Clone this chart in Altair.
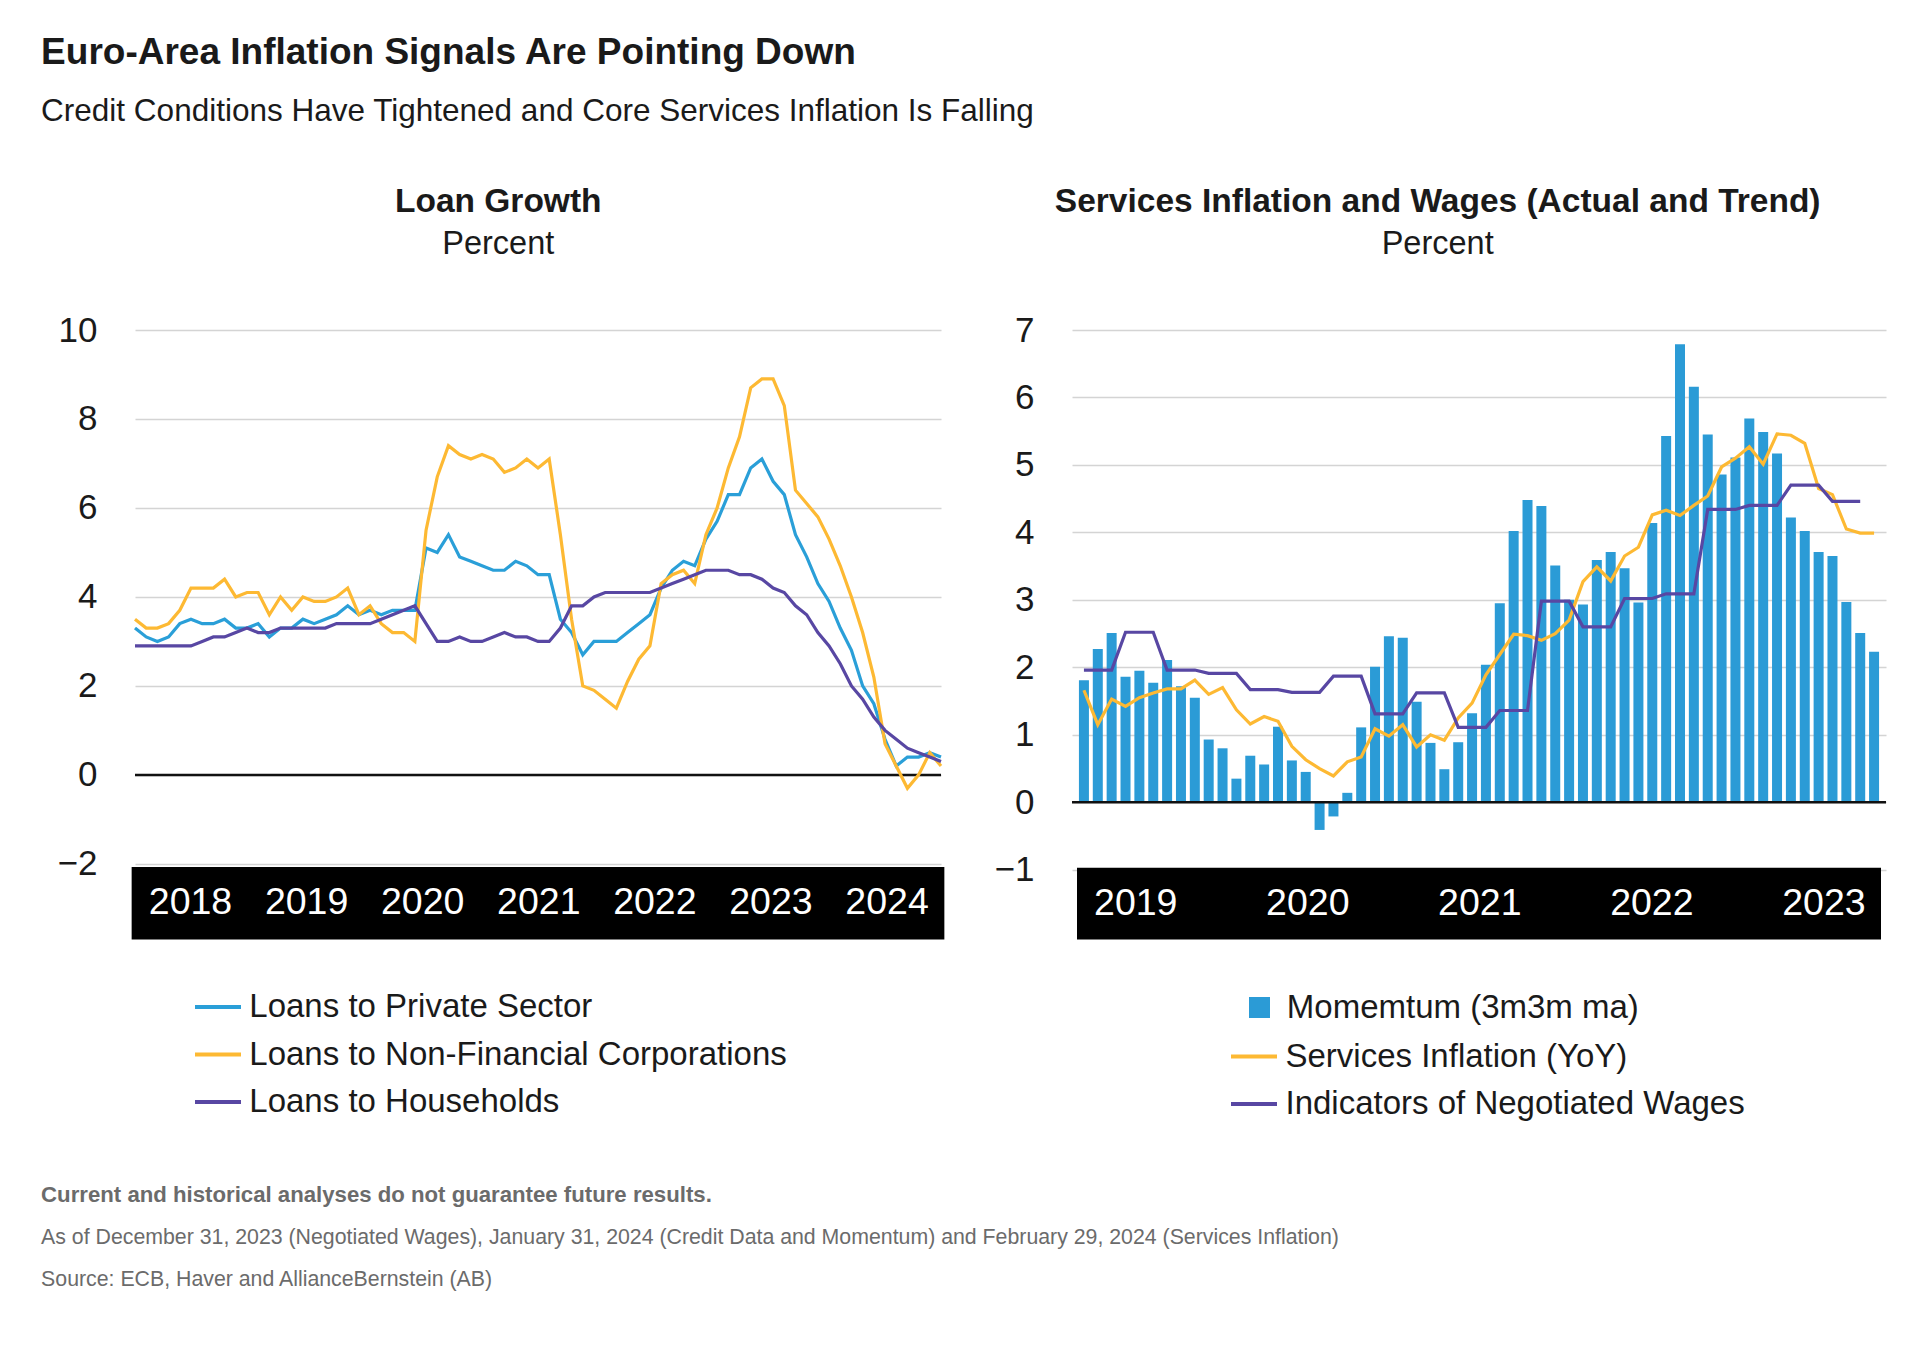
import altair as alt
import pandas as pd

FONT = "Liberation Sans, Arial, Helvetica, sans-serif"
TXT = "#1a1a1a"
GREY = "#6b6b6b"
BLUE = "#2A9FD8"
BAR_BLUE = "#2B9BD6"
YELLOW = "#FDB933"
PURPLE = "#5847A3"

# ---------------- Left panel: Loan Growth (monthly, 73 points) ----------------
loan_series = ["Loans to Private Sector", "Loans to Non-Financial Corporations", "Loans to Households"]
loans_private = [3.3, 3.1, 3.0, 3.1, 3.4, 3.5, 3.4, 3.4, 3.5, 3.3, 3.3, 3.4, 3.1, 3.3, 3.3, 3.5, 3.4, 3.5,
                 3.6, 3.8, 3.6, 3.7, 3.6, 3.7, 3.7, 3.7, 5.1, 5.0, 5.4, 4.9, 4.8, 4.7, 4.6, 4.6, 4.8, 4.7,
                 4.5, 4.5, 3.5, 3.2, 2.7, 3.0, 3.0, 3.0, 3.2, 3.4, 3.6, 4.2, 4.6, 4.8, 4.7, 5.3, 5.7, 6.3,
                 6.3, 6.9, 7.1, 6.6, 6.3, 5.4, 4.9, 4.3, 3.9, 3.3, 2.8, 2.0, 1.6, 0.8, 0.2, 0.4, 0.4, 0.5, 0.4]
loans_nfc = [3.5, 3.3, 3.3, 3.4, 3.7, 4.2, 4.2, 4.2, 4.4, 4.0, 4.1, 4.1, 3.6, 4.0, 3.7, 4.0, 3.9, 3.9,
             4.0, 4.2, 3.6, 3.8, 3.4, 3.2, 3.2, 3.0, 5.5, 6.7, 7.4, 7.2, 7.1, 7.2, 7.1, 6.8, 6.9, 7.1,
             6.9, 7.1, 5.4, 3.5, 2.0, 1.9, 1.7, 1.5, 2.1, 2.6, 2.9, 4.3, 4.5, 4.6, 4.3, 5.4, 6.0, 6.9,
             7.6, 8.7, 8.9, 8.9, 8.3, 6.4, 6.1, 5.8, 5.3, 4.7, 4.0, 3.2, 2.2, 0.7, 0.2, -0.3, 0.0, 0.5, 0.2]
loans_households = [2.9, 2.9, 2.9, 2.9, 2.9, 2.9, 3.0, 3.1, 3.1, 3.2, 3.3, 3.2, 3.2, 3.3, 3.3, 3.3, 3.3, 3.3,
                    3.4, 3.4, 3.4, 3.4, 3.5, 3.6, 3.7, 3.8, 3.4, 3.0, 3.0, 3.1, 3.0, 3.0, 3.1, 3.2, 3.1, 3.1,
                    3.0, 3.0, 3.3, 3.8, 3.8, 4.0, 4.1, 4.1, 4.1, 4.1, 4.1, 4.2, 4.3, 4.4, 4.5, 4.6, 4.6, 4.6,
                    4.5, 4.5, 4.4, 4.2, 4.1, 3.8, 3.6, 3.2, 2.9, 2.5, 2.0, 1.7, 1.3, 1.0, 0.8, 0.6, 0.5, 0.4, 0.3]
left_years = ["2018", "2019", "2020", "2021", "2022", "2023", "2024"]
left_ticks = [-2, 0, 2, 4, 6, 8, 10]

# ---------------- Right panel: Services Inflation and Wages ----------------
momentum_name = "Momemtum (3m3m ma)"
wage_series = ["Services Inflation (YoY)", "Indicators of Negotiated Wages"]
momentum = [1.81, 2.27, 2.51, 1.86, 1.95, 1.77, 2.11, 1.72, 1.55, 0.93,
            0.80, 0.35, 0.69, 0.56, 1.12, 0.62, 0.45, -0.41, -0.21, 0.14,
            1.11, 2.01, 2.46, 2.44, 1.49, 0.88, 0.49, 0.89, 1.32, 2.04,
            2.95, 4.02, 4.48, 4.39, 3.51, 3.00, 2.93, 3.59, 3.71, 3.47,
            2.96, 4.14, 5.43, 6.79, 6.16, 5.45, 4.86, 5.11, 5.69, 5.49,
            5.17, 4.22, 4.02, 3.71, 3.65, 2.97, 2.51, 2.23]
services = [1.66, 1.15, 1.53, 1.42, 1.55, 1.62, 1.68, 1.68, 1.81, 1.60,
            1.70, 1.37, 1.16, 1.27, 1.20, 0.83, 0.63, 0.50, 0.39, 0.60,
            0.67, 1.09, 0.98, 1.15, 0.82, 1.00, 0.92, 1.25, 1.47, 1.89,
            2.19, 2.49, 2.47, 2.40, 2.50, 2.70, 3.27, 3.49, 3.28, 3.65,
            3.78, 4.26, 4.33, 4.25, 4.40, 4.54, 4.97, 5.10, 5.27, 5.01,
            5.46, 5.44, 5.32, 4.65, 4.56, 4.05, 3.99, 3.99]
wages = [1.96, 1.96, 1.96, 2.52, 2.52, 2.52, 1.96, 1.96, 1.96, 1.91,
         1.91, 1.91, 1.67, 1.67, 1.67, 1.63, 1.63, 1.63, 1.87, 1.87,
         1.87, 1.31, 1.31, 1.31, 1.62, 1.62, 1.62, 1.11, 1.11, 1.11,
         1.36, 1.36, 1.36, 2.98, 2.98, 2.98, 2.60, 2.60, 2.60, 3.02,
         3.02, 3.02, 3.09, 3.09, 3.09, 4.34, 4.34, 4.34, 4.40, 4.40,
         4.40, 4.70, 4.70, 4.70, 4.46, 4.46, 4.46]
right_years = ["2019", "2020", "2021", "2022", "2023"]
right_ticks = [-1, 0, 1, 2, 3, 4, 5, 6, 7]

# ---------------- layout constants ----------------
L_W, L_H = 806, 609.5
R_W, R_H = 814, 609.5
L_YMIN, L_YMAX, L_BAND_TOP = -3.70, 10, -2.07
R_YMIN, R_YMAX, R_BAND_TOP = -2.034, 7, -0.97
L_XMIN, L_XMAX = 0, len(loans_private) - 1
R_XMIN, R_XMAX = -0.5, len(momentum) - 0.5
YEAR_FS = 37.5


def y_axis(values, pad):
    return alt.Axis(values=values, grid=True, ticks=False, domain=False, title=None,
                    labelFontSize=35, labelPadding=pad, labelColor=TXT, labelFont=FONT,
                    gridColor="#d4d4d4", gridWidth=1.6)


def line_legend(x, y, offset):
    return alt.Legend(orient="none", legendX=x, legendY=y, direction="vertical", title=None,
                      symbolType="stroke", symbolSize=2116, symbolStrokeWidth=4,
                      labelFontSize=33, labelFont=FONT, labelColor=TXT, labelOffset=offset,
                      labelLimit=1000, rowPadding=5.5)


def panel_title(text, dx=0):
    return alt.TitleParams(text=text, subtitle="Percent", anchor="middle", frame="bounds", dx=dx,
                           font=FONT, fontSize=33.5, fontWeight="bold", color=TXT,
                           subtitleFont=FONT, subtitleFontSize=32.5, subtitleColor=TXT,
                           subtitlePadding=8.5, offset=51.5)


# ---- left chart ----
n_l = len(loans_private)
left_df = pd.DataFrame({
    "month": list(range(n_l)) * 3,
    "value": loans_private + loans_nfc + loans_households,
    "loan": [s for s in loan_series for _ in range(n_l)],
})
lxs = alt.Scale(domain=[L_XMIN, L_XMAX], nice=False, zero=False)
lys = alt.Scale(domain=[L_YMIN, L_YMAX], nice=False, zero=False)
l_axis = y_axis(left_ticks, 38)

l_step = 10.37
l_first = 4.96
left_year_df = pd.DataFrame({
    "pos": [l_first + l_step * k for k in range(len(left_years))],
    "year": left_years,
    "ypos": [(L_BAND_TOP + L_YMIN) / 2] * len(left_years),
})
left_band_df = pd.DataFrame({"x": [L_XMIN - 0.3], "x2": [L_XMAX + 0.3],
                             "y": [L_BAND_TOP], "y2": [L_YMIN]})

l_lines = alt.Chart(left_df).mark_line(strokeWidth=3.2).encode(
    x=alt.X("month:Q", scale=lxs, axis=None),
    y=alt.Y("value:Q", scale=lys, axis=l_axis),
    stroke=alt.Stroke("loan:N", scale=alt.Scale(domain=loan_series, range=[BLUE, YELLOW, PURPLE]),
                      legend=line_legend(58, 652, 6.3)),
)
l_zero = alt.Chart(pd.DataFrame({"y": [0]})).mark_rule(color="#111111", strokeWidth=2.5).encode(
    y=alt.Y("y:Q", scale=lys, axis=l_axis))
l_band = alt.Chart(left_band_df).mark_rect(color="black").encode(
    x=alt.X("x:Q", scale=lxs, axis=None), x2="x2",
    y=alt.Y("y:Q", scale=lys, axis=l_axis), y2="y2")
l_years = alt.Chart(left_year_df).mark_text(color="white", fontSize=YEAR_FS, font=FONT,
                                            align="center", baseline="middle").encode(
    x=alt.X("pos:Q", scale=lxs, axis=None),
    y=alt.Y("ypos:Q", scale=lys, axis=l_axis),
    text="year:N")

left = alt.layer(l_zero, l_lines, l_band, l_years).properties(
    width=L_W, height=L_H, title=panel_title("Loan Growth", dx=-4))

# ---- right chart ----
n_r = len(momentum)
bar_df = pd.DataFrame({"month": list(range(n_r)), "value": momentum, "bar_series": [momentum_name] * n_r})
rline_df = pd.DataFrame({
    "month": list(range(len(services))) + list(range(len(wages))),
    "value": services + wages,
    "wseries": [wage_series[0]] * len(services) + [wage_series[1]] * len(wages),
})
rxs = alt.Scale(domain=[R_XMIN, R_XMAX], nice=False, zero=False)
rys = alt.Scale(domain=[R_YMIN, R_YMAX], nice=False, zero=False)
r_axis = y_axis(right_ticks, 38)

r_step = 12.41
r_first = 3.74
right_year_df = pd.DataFrame({
    "pos": [r_first + r_step * k for k in range(len(right_years))],
    "year": right_years,
    "ypos": [(R_BAND_TOP + R_YMIN) / 2] * len(right_years),
})
right_band_df = pd.DataFrame({"x": [R_XMIN], "x2": [R_XMAX], "y": [R_BAND_TOP], "y2": [R_YMIN]})

r_bars = alt.Chart(bar_df).mark_bar(size=10).encode(
    x=alt.X("month:Q", scale=rxs, axis=None),
    y=alt.Y("value:Q", scale=rys, axis=r_axis),
    fill=alt.Fill("bar_series:N", scale=alt.Scale(domain=[momentum_name], range=[BAR_BLUE]),
                  legend=alt.Legend(orient="none", legendX=171, legendY=661, title=None,
                                    symbolType="square", symbolSize=441, symbolStrokeWidth=0,
                                    labelFontSize=33, labelFont=FONT, labelColor=TXT,
                                    labelOffset=10.8, labelLimit=1000)),
)
r_zero = alt.Chart(pd.DataFrame({"y": [0]})).mark_rule(color="#111111", strokeWidth=2.5).encode(
    y=alt.Y("y:Q", scale=rys, axis=r_axis))
r_lines = alt.Chart(rline_df).mark_line(strokeWidth=3.2).encode(
    x=alt.X("month:Q", scale=rxs, axis=None),
    y=alt.Y("value:Q", scale=rys, axis=r_axis),
    stroke=alt.Stroke("wseries:N", scale=alt.Scale(domain=wage_series, range=[YELLOW, PURPLE]),
                      legend=line_legend(157, 701.5, 6.5)),
)
r_band = alt.Chart(right_band_df).mark_rect(color="black").encode(
    x=alt.X("x:Q", scale=rxs, axis=None), x2="x2",
    y=alt.Y("y:Q", scale=rys, axis=r_axis), y2="y2")
r_years = alt.Chart(right_year_df).mark_text(color="white", fontSize=YEAR_FS, font=FONT,
                                             align="center", baseline="middle").encode(
    x=alt.X("pos:Q", scale=rxs, axis=None),
    y=alt.Y("ypos:Q", scale=rys, axis=r_axis),
    text="year:N")

right = alt.layer(r_bars, r_zero, r_lines, r_band, r_years).properties(
    width=R_W, height=R_H,
    title=panel_title("Services Inflation and Wages (Actual and Trend)", dx=-3),
).resolve_scale(fill="independent", stroke="independent")

inner = alt.hconcat(
    left, right, spacing=46,
    title=alt.TitleParams(
        text="Current and historical analyses do not guarantee future results.",
        subtitle=["As of December 31, 2023 (Negotiated Wages), January 31, 2024 (Credit Data and Momentum) "
                  "and February 29, 2024 (Services Inflation)",
                  "Source: ECB, Haver and AllianceBernstein (AB)"],
        orient="bottom", anchor="start", frame="bounds", dx=-16,
        font=FONT, fontSize=22.2, fontWeight="bold", color=GREY,
        subtitleFont=FONT, subtitleFontSize=21.3, subtitleColor=GREY,
        subtitleLineHeight=42, subtitlePadding=21, offset=62),
).resolve_scale(stroke="independent", fill="independent").resolve_legend(stroke="independent", fill="independent")

chart = alt.vconcat(
    inner,
    title=alt.TitleParams(
        text="Euro-Area Inflation Signals Are Pointing Down",
        subtitle="Credit Conditions Have Tightened and Core Services Inflation Is Falling",
        anchor="start", frame="bounds",
        font=FONT, fontSize=37, fontWeight="bold", color=TXT,
        subtitleFont=FONT, subtitleFontSize=31.5, subtitleColor=TXT,
        subtitlePadding=24, offset=57),
).resolve_scale(stroke="independent", fill="independent").properties(
    padding={"left": 33, "top": 25, "right": 20, "bottom": 20},
    background="white",
).configure_view(stroke=None)

chart.save("out.html", embed_options={"renderer": "svg", "actions": False})
